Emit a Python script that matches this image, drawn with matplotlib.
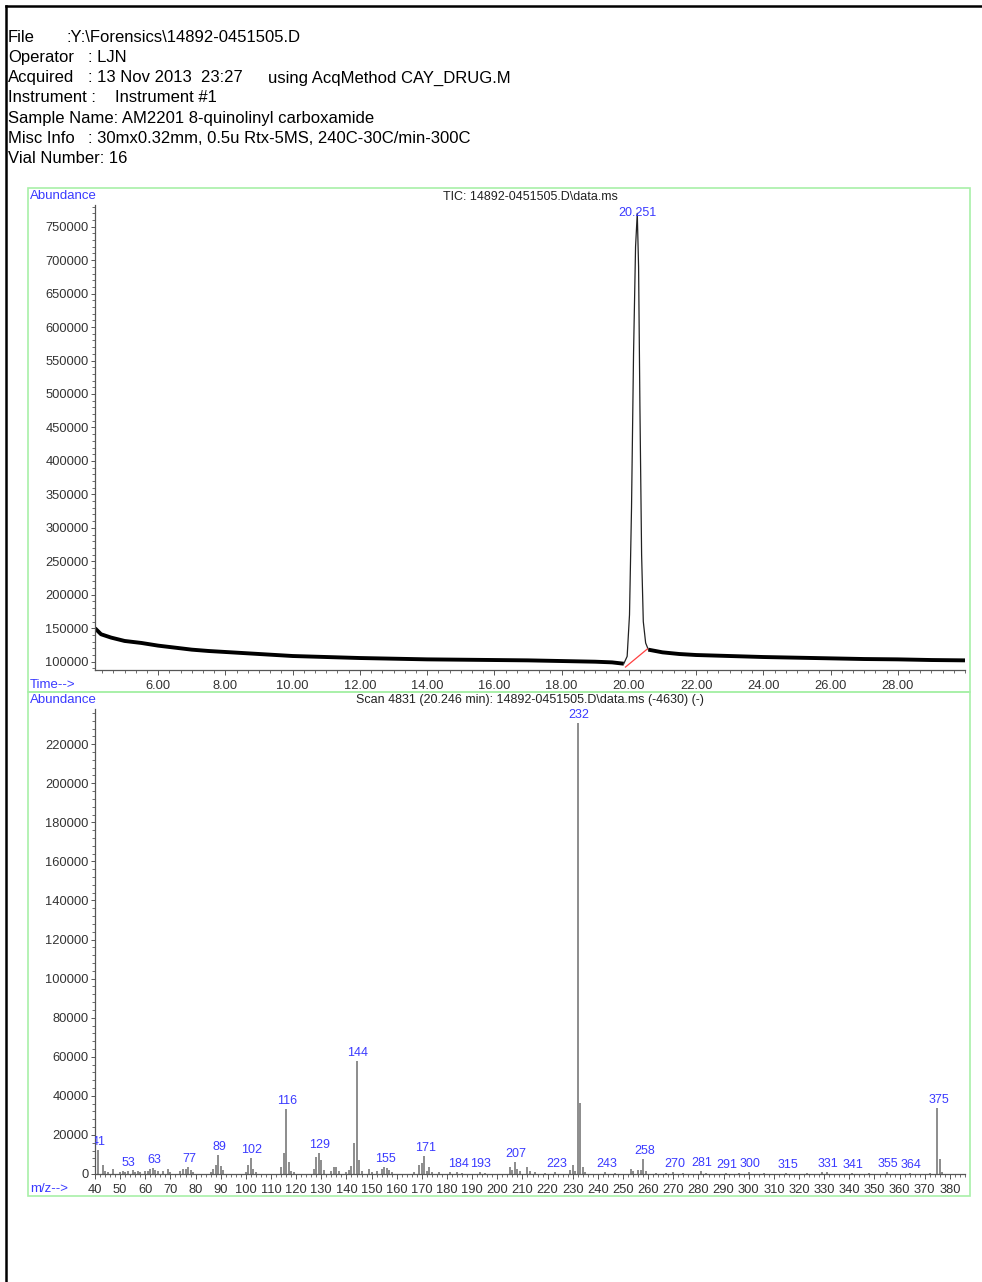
import matplotlib.pyplot as plt
from matplotlib.lines import Line2D
from matplotlib.patches import Rectangle
from matplotlib.ticker import MultipleLocator, FixedLocator

plt.rcParams["font.family"] = ["Liberation Sans", "DejaVu Sans"]

W, H = 982, 1282

# report header
header_labels = ["File", "Operator", "Acquired", "Instrument :", "Sample Name: AM2201 8-quinolinyl carboxamide",
                 "Misc Info", "Vial Number: 16"]
header_values = [":Y:\\Forensics\\14892-0451505.D", ": LJN", ": 13 Nov 2013  23:27", "Instrument #1", "",
                 ": 30mx0.32mm, 0.5u Rtx-5MS, 240C-30C/min-300C", ""]
acq_method = "using AcqMethod CAY_DRUG.M"

# TIC chromatogram (retention time in min, abundance)
tic_title = "TIC: 14892-0451505.D\\data.ms"
tic_time = [4.12, 4.3, 4.6, 5.0, 5.5, 6.0, 6.5, 7.0, 7.5, 8.0, 8.5, 9.0, 9.5, 10.0, 11.0, 12.0,
            13.0, 14.0, 15.0, 16.0, 17.0, 18.0, 19.0, 19.5, 19.85]
tic_abund = [150000, 141000, 136000, 131000, 128000, 124000, 121000, 118000, 116000, 114500, 113000,
             111500, 110000, 108500, 107000, 105500, 104500, 103500, 103000, 102500, 102000, 101000,
             100000, 99000, 97000]
peak_time = [19.85, 19.95, 20.02, 20.08, 20.14, 20.2, 20.251, 20.29, 20.33, 20.38, 20.43, 20.5, 20.58]
peak_abund = [97000, 108000, 170000, 330000, 560000, 720000, 770000, 690000, 480000, 260000, 160000,
              128000, 118000]
tail_time = [20.58, 21.0, 21.5, 22.0, 23.0, 24.0, 25.0, 26.0, 27.0, 28.0, 29.0, 30.0]
tail_abund = [118000, 114000, 111500, 110000, 108500, 107000, 106000, 105000, 104000, 103500, 102500, 102000]
peak_rt = 20.251
base_time = [19.9, 20.55]
base_abund = [92000, 119000]

# mass spectrum (m/z, abundance)
ms_title = "Scan 4831 (20.246 min): 14892-0451505.D\\data.ms (-4630) (-)"
ms_mz = [41, 43, 44, 45, 47, 50, 51, 52, 53, 55, 56, 57, 58, 60, 61, 62, 63, 64, 65, 67, 69, 70,
         74, 75, 76, 77, 78, 79, 86, 87, 88, 89, 90, 91, 100, 101, 102, 103, 104, 114, 115, 116, 117,
         118, 119, 127, 128, 129, 130, 131, 134, 135, 136, 137, 140, 141, 142, 143, 144, 145, 146,
         149, 150, 152, 154, 155, 156, 157, 158, 167, 169, 170, 171, 172, 173, 174, 177, 181, 184,
         186, 193, 195, 205, 206, 207, 208, 209, 212, 213, 215, 219, 223, 229, 230, 231, 232, 233,
         234, 235, 243, 247, 253, 254, 256, 257, 258, 259, 263, 267, 270, 274, 281, 283, 291, 296,
         300, 306, 315, 323, 329, 331, 341, 348, 355, 364, 372, 375, 376, 377]
ms_abund = [12300, 4500, 1500, 1000, 2500, 1000, 1500, 1000, 1500, 2000, 1000, 1500, 1000, 1500,
            1500, 2500, 3000, 2000, 1500, 1500, 2500, 1000, 1500, 2500, 2500, 3500, 2000, 1000, 1000,
            2500, 4500, 9700, 4000, 2000, 1000, 4500, 8200, 2500, 1000, 3500, 10800, 33300, 6000,
            1500, 1000, 2500, 8500, 10800, 7000, 2000, 1500, 3500, 3500, 1500, 1000, 2000, 4000,
            15900, 57900, 7200, 1500, 2500, 1000, 1500, 2500, 3500, 3000, 2000, 1000, 1000, 4500,
            5600, 9200, 1500, 3500, 1000, 1000, 1000, 1000, 500, 1000, 500, 3500, 2000, 6100, 2500,
            1500, 3500, 1500, 1000, 500, 1000, 2000, 4600, 1500, 231000, 36300, 3500, 1000, 1000, 500,
            2500, 1500, 2000, 2000, 7700, 1500, 500, 500, 800, 600, 1500, 700, 600, 500, 800, 500,
            600, 500, 1000, 1200, 700, 500, 800, 600, 500, 33800, 7700, 1000]
ms_labels = [41, 53, 63, 77, 89, 102, 116, 129, 144, 155, 171, 184, 193, 207, 223, 232, 243, 258,
             270, 281, 291, 300, 315, 331, 341, 355, 364, 375]

BLUE = "#3a3aff"
GREEN = "#a8f0a8"
TICK_C = "#333333"
AXIS_C = "#555555"


def fx(x):
    return x / W


def fy(y):
    return 1 - y / H


fig = plt.figure(figsize=(W / 100, H / 100), dpi=100)

# page border
fig.add_artist(Line2D([fx(6), fx(6)], [fy(6), 0], color="black", lw=1.8, transform=fig.transFigure))
fig.add_artist(Line2D([fx(6), 1], [fy(6), fy(6)], color="black", lw=1.8, transform=fig.transFigure))

# header block
value_x = [67, 88, 88, 115, 0, 88, 0]
for i, (lab, val) in enumerate(zip(header_labels, header_values)):
    y = 37 + i * 20.3
    fig.text(fx(8), fy(y), lab, fontsize=12, va="center", ha="left")
    if val:
        fig.text(fx(value_x[i]), fy(y), val, fontsize=12, va="center", ha="left")
fig.text(fx(268), fy(78), acq_method, fontsize=12, va="center", ha="left")

# panel frames
for top, bot in [(188, 692), (692, 1196)]:
    fig.add_artist(Rectangle((fx(28), fy(bot)), fx(970) - fx(28), fy(top) - fy(bot), fill=False,
                             edgecolor=GREEN, lw=1.2, transform=fig.transFigure))


def style_axes(ax):
    for side in ["top", "right"]:
        ax.spines[side].set_visible(False)
    for side in ["left", "bottom"]:
        ax.spines[side].set_color(AXIS_C)
        ax.spines[side].set_linewidth(0.9)
    ax.tick_params(which="major", direction="out", length=3, width=0.7, color=AXIS_C,
                   labelsize=9.3, labelcolor=TICK_C, pad=1.5)
    ax.tick_params(which="minor", direction="out", length=2, width=0.6, color=AXIS_C)
    ax.tick_params(axis="x", which="major", length=3.5, pad=4)
    ax.patch.set_alpha(0)


# --- TIC ---
ax1 = fig.add_axes([fx(95), fy(670), fx(965) - fx(95), fy(205) - fy(670)])
style_axes(ax1)
ax1.plot(tic_time, tic_abund, color="black", lw=2.8, solid_capstyle="butt")
ax1.plot(tail_time, tail_abund, color="black", lw=2.8, solid_capstyle="butt")
ax1.plot(peak_time, peak_abund, color="#222222", lw=0.9)
ax1.plot(base_time, base_abund, color="#ff4040", lw=0.9)
ax1.text(peak_rt, max(peak_abund), f"{peak_rt:.3f}", color=BLUE, fontsize=9, ha="center", va="center")
ax1.set_xlim(4.12, 30.0)
ax1.set_ylim(87600, 782400)
ax1.xaxis.set_major_locator(FixedLocator([6, 8, 10, 12, 14, 16, 18, 20, 22, 24, 26, 28]))
ax1.xaxis.set_minor_locator(MultipleLocator(1 / 3))
ax1.xaxis.set_major_formatter(lambda v, p: f"{v:.2f}")
ax1.yaxis.set_major_locator(MultipleLocator(50000))
ax1.yaxis.set_minor_locator(MultipleLocator(10000))
ax1.yaxis.set_major_formatter(lambda v, p: f"{int(v)}")

fig.text(fx(530), fy(197), tic_title, fontsize=9, ha="center", va="center", color="#222222")
fig.text(fx(30), fy(196), "Abundance", fontsize=9.5, ha="left", va="center", color=BLUE)
fig.text(fx(30), fy(685), "Time-->", fontsize=9.5, ha="left", va="center", color=BLUE)

# --- mass spectrum ---
ax2 = fig.add_axes([fx(95), fy(1174), fx(965) - fx(95), fy(709) - fy(1174)])
style_axes(ax2)
ax2.vlines(ms_mz, 0, ms_abund, color="#8c8c8c", lw=1.4)
ms_lookup = dict(zip(ms_mz, ms_abund))
for mz in ms_labels:
    ax2.annotate(str(mz), (mz, ms_lookup[mz]), xytext=(0.8, 1.5), textcoords="offset points",
                 ha="center", va="bottom", fontsize=9, color=BLUE, annotation_clip=False, clip_on=True)
ax2.set_xlim(40, 386)
ax2.set_ylim(0, 238000)
ax2.xaxis.set_major_locator(MultipleLocator(10))
ax2.xaxis.set_minor_locator(MultipleLocator(2))
ax2.yaxis.set_major_locator(FixedLocator(range(0, 220001, 20000)))
ax2.yaxis.set_minor_locator(MultipleLocator(4000))
ax2.yaxis.set_major_formatter(lambda v, p: f"{int(v)}")

fig.text(fx(530), fy(700), ms_title, fontsize=9, ha="center", va="center", color="#222222")
fig.text(fx(30), fy(700), "Abundance", fontsize=9.5, ha="left", va="center", color=BLUE)
fig.text(fx(30), fy(1189), "m/z-->", fontsize=9.5, ha="left", va="center", color=BLUE)

fig.savefig("out.png", dpi=100)
